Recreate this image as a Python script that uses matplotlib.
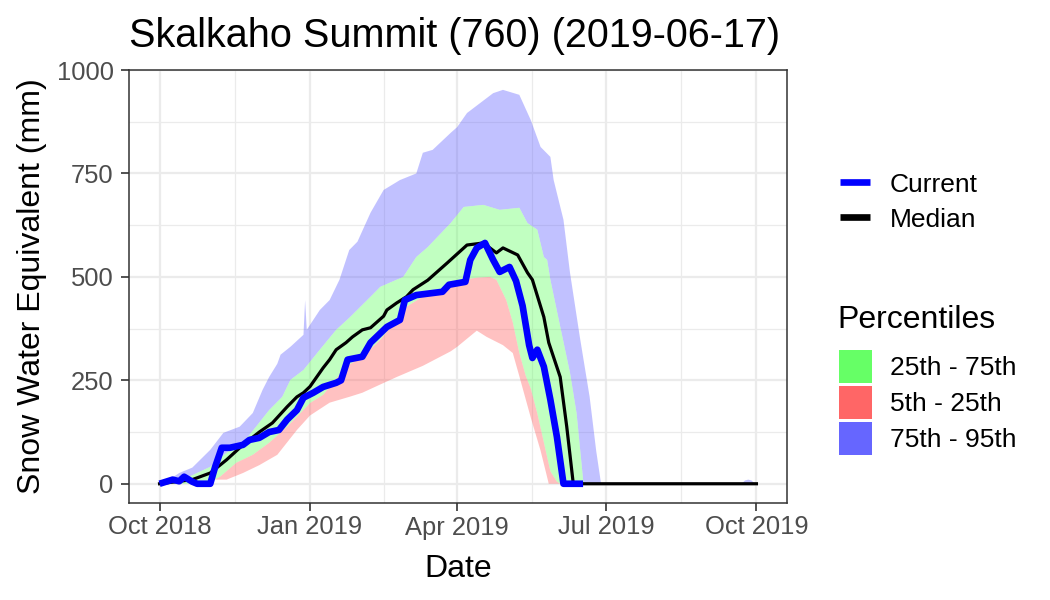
import datetime as dt
import numpy as np
import matplotlib
matplotlib.use("Agg")
import matplotlib.pyplot as plt
from matplotlib.lines import Line2D
from matplotlib.patches import Rectangle

plt.rcParams['font.family'] = ['Liberation Sans', 'DejaVu Sans']

# ---------------- data (days since 2018-10-01, SWE in mm) ----------------
title = "Skalkaho Summit (760) (2019-06-17)"
start_date = dt.date(2018, 10, 1)
tick_dates = [dt.date(2018, 10, 1), dt.date(2019, 1, 1), dt.date(2019, 4, 1),
              dt.date(2019, 7, 1), dt.date(2019, 10, 1)]
tick_labels = ["Oct 2018", "Jan 2019", "Apr 2019", "Jul 2019", "Oct 2019"]
y_ticks = [0, 250, 500, 750, 1000]
y_minor = [125, 375, 625, 875]

current_day = [0, 8, 12, 15, 20, 23, 31, 34, 38, 43, 51, 55, 61, 67, 73, 78, 84, 88, 94, 100,
               108, 111, 115, 124, 129, 139, 147, 150, 157, 173, 177, 187, 190, 194, 199, 204,
               208, 214, 218, 222, 226, 228, 231, 235, 239, 243, 247, 259]
current_swe = [0, 10, 6, 17, 5, 0, 0, 41, 87, 87, 94, 106, 111, 125, 130, 155, 178, 208, 220, 234,
               244, 250, 300, 307, 341, 379, 396, 444, 456, 464, 481, 488, 541, 570, 582, 541,
               512, 524, 490, 430, 335, 304, 324, 283, 203, 113, 0, 0]

median_day = [0, 20, 31, 41, 51, 61, 69, 78, 84, 88, 92, 100, 104, 108, 114, 118, 124, 129, 137,
              139, 145, 151, 155, 164, 176, 188, 198, 206, 210, 219, 225, 228, 235, 238, 245,
              249, 253, 365]
median_swe = [0, 10, 26, 58, 94, 125, 147, 186, 210, 220, 235, 280, 300, 324, 341, 355, 372, 377,
              405, 420, 437, 452, 469, 492, 534, 577, 582, 558, 570, 553, 510, 493, 403, 341,
              258, 138, 0, 0]

p95_day = [0, 6, 12, 20, 31, 39, 49, 57, 63, 67, 72, 74, 80, 88, 89, 90, 92, 98, 104, 110,
           116, 121, 129, 137, 147, 157, 161, 167, 178, 182, 188, 204, 210, 220, 227, 233,
           239, 241, 247, 251, 257, 263, 267, 270, 356, 358, 360, 362, 364, 365]
p95_swe = [0, 10, 26, 39, 82, 123, 138, 171, 227, 258, 290, 312, 331, 360, 444, 372, 384, 420,
           444, 493, 565, 585, 655, 710, 734, 750, 800, 807, 848, 862, 896, 944, 952, 940, 879,
           814, 790, 734, 638, 510, 355, 210, 80, 0, 0, 8, 10, 8, 0, 0]

p75_day = [0, 6, 18, 31, 41, 51, 59, 67, 75, 80, 88, 98, 108, 116, 129, 135, 149, 157, 164,
           178, 186, 198, 208, 220, 225, 231, 235, 237, 239, 245, 251, 255, 259, 260]
p75_swe = [0, 5, 17, 41, 75, 99, 138, 178, 210, 251, 275, 324, 372, 401, 452, 476, 500, 548,
           572, 630, 669, 674, 662, 667, 630, 614, 548, 541, 493, 380, 268, 171, 10, 0]

p25_day = [0, 29, 37, 47, 57, 67, 78, 84, 92, 100, 104, 114, 124, 135, 145, 151, 161, 176,
           186, 194, 202, 206, 212, 216, 220, 224, 227, 231, 235, 239, 243, 245]
p25_swe = [0, 0, 17, 51, 70, 99, 138, 162, 195, 215, 234, 283, 307, 348, 396, 428, 452, 469,
           493, 498, 500, 493, 444, 390, 316, 260, 230, 170, 100, 30, 5, 0]

p5_day = [0, 31, 33, 41, 51, 61, 72, 78, 84, 92, 104, 116, 124, 135, 145, 161, 178, 182, 194,
          200, 210, 216, 220, 227, 233, 238]
p5_swe = [0, 0, 10, 10, 26, 45, 70, 100, 130, 165, 196, 210, 220, 240, 258, 285, 320, 331,
          370, 355, 335, 316, 260, 160, 80, 0]

band_labels = ["25th - 75th", "5th - 25th", "75th - 95th"]
band_colors = ["#66FF66", "#FF6666", "#6666FF"]
line_labels = ["Current", "Median"]
line_colors = ["#0000FF", "#000000"]

# ---------------- figure ----------------
W, H = 1050, 600
fig = plt.figure(figsize=(10.5, 6), dpi=100)


def fx(px):
    return px / W


def fy(py):
    return 1 - py / H


ax = fig.add_axes([fx(129), fy(503), fx(787) - fx(129), fy(70) - fy(503)])

tick_days = [(d - start_date).days for d in tick_dates]
minor_days = [(a + b) / 2 for a, b in zip(tick_days[:-1], tick_days[1:])]


def band(d_hi, v_hi, d_lo, v_lo, color):
    xs = np.concatenate([np.asarray(d_hi, float), np.asarray(d_lo, float)[::-1]])
    ys = np.concatenate([np.asarray(v_hi, float), np.asarray(v_lo, float)[::-1]])
    ax.fill(xs, ys, color=color, alpha=0.4, lw=0, zorder=2)


band(p95_day, p95_swe, p75_day, p75_swe, band_colors[2])
band(p75_day, p75_swe, p25_day, p25_swe, band_colors[0])
band(p25_day, p25_swe, p5_day, p5_swe, band_colors[1])

ax.plot(median_day, median_swe, color=line_colors[1], lw=2.3, zorder=3,
        solid_joinstyle='round')
ax.plot(current_day, current_swe, color=line_colors[0], lw=4.8, zorder=4,
        solid_joinstyle='round', solid_capstyle='butt')

ax.set_xlim(-18.7, 383.7)
ax.set_ylim(-46.5, 1000)
ax.set_xticks(tick_days)
ax.set_xticklabels(tick_labels)
ax.set_xticks(minor_days, minor=True)
ax.set_yticks(y_ticks)
ax.set_yticklabels([str(v) for v in y_ticks])
ax.set_yticks(y_minor, minor=True)

ax.set_axisbelow(True)
ax.grid(which='major', color='#EBEBEB', lw=1.6)
ax.grid(which='minor', color='#EBEBEB', lw=0.9)
ax.tick_params(which='major', length=6, width=1.2, color='#333333',
               labelsize=18.4, labelcolor='#4D4D4D')
ax.tick_params(axis='y', which='major', pad=5)
ax.tick_params(axis='x', which='major', pad=3)
ax.tick_params(which='minor', length=0)
for s in ax.spines.values():
    s.set_color('#333333')
    s.set_linewidth(1.1)

# titles
fig.text(fx(129), fy(47), title, fontsize=28.5, ha='left', va='baseline', color='black')
fig.text(fx(458), fy(577), "Date", fontsize=23, ha='center', va='baseline', color='black')
fig.text(fx(32), fy(286.5), "Snow Water Equivalent (mm)", fontsize=23, rotation=90,
         ha='center', va='center', color='black')

# legend (lines)
for i, (lab, col) in enumerate(zip(line_labels, line_colors)):
    yc = 182 + 35 * i
    fig.add_artist(Line2D([fx(840), fx(870)], [fy(yc), fy(yc)], color=col, lw=4.8,
                          solid_capstyle='butt'))
    fig.text(fx(890), fy(yc + 10), lab, fontsize=19, ha='left', va='baseline')

# legend (percentiles)
fig.text(fx(837), fy(328), "Percentiles", fontsize=23, ha='left', va='baseline')
for i, (lab, col) in enumerate(zip(band_labels, band_colors)):
    top = 350 + 36 * i
    fig.add_artist(Rectangle((fx(839), fy(top + 33)), fx(872) - fx(839), fy(top) - fy(top + 33),
                             facecolor=col, edgecolor='none'))
    fig.text(fx(890), fy(top + 25), lab, fontsize=19, ha='left', va='baseline')

fig.savefig("out.png", dpi=100)
